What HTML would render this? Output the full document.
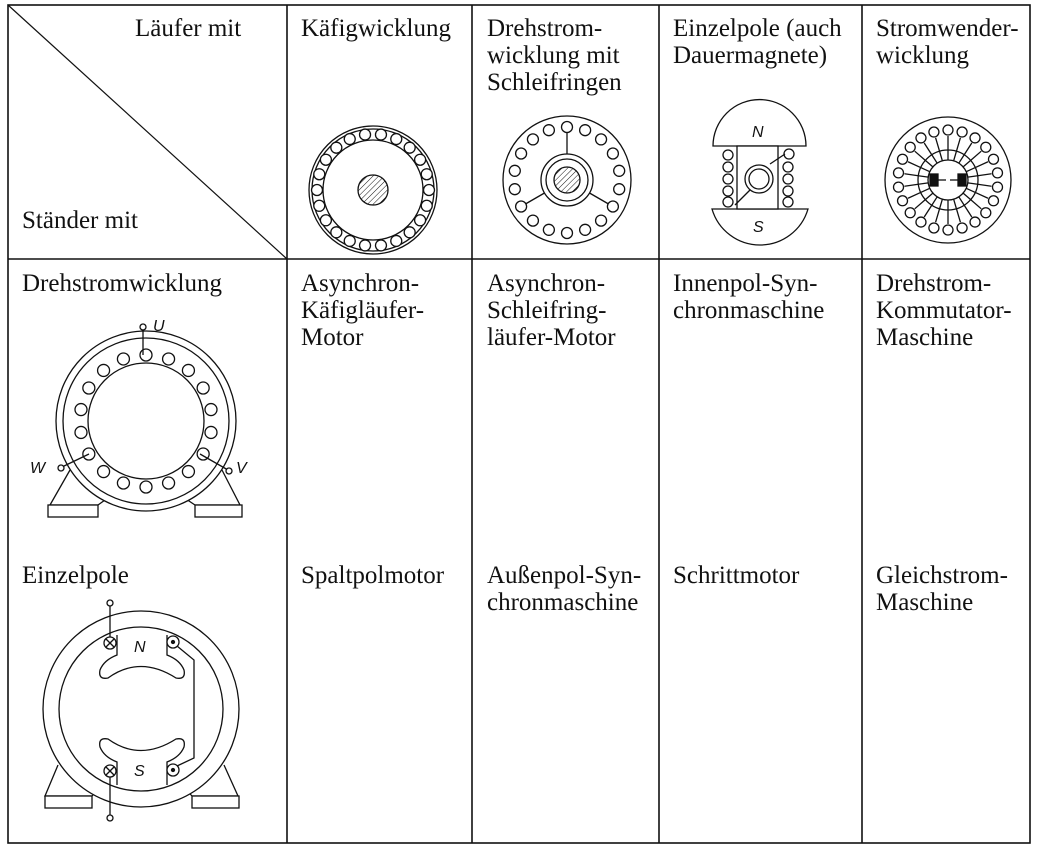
<!DOCTYPE html>
<html><head><meta charset="utf-8"><style>
html,body{margin:0;padding:0;background:#fff;width:1039px;height:852px;overflow:hidden}
svg{display:block}
text{font-family:"Liberation Serif",serif;font-size:25px;fill:#111}
.it{font-family:"Liberation Sans",sans-serif;font-style:italic;font-size:16px}
</style></head><body>
<svg width="1039" height="852" viewBox="0 0 1039 852">
<g stroke="#111" stroke-width="1.6" fill="none">
<rect x="8" y="5" width="1022" height="838"/>
<line x1="287" y1="5" x2="287" y2="843"/><line x1="472" y1="5" x2="472" y2="843"/>
<line x1="659" y1="5" x2="659" y2="843"/><line x1="862" y1="5" x2="862" y2="843"/>
<line x1="8" y1="259" x2="1030" y2="259"/>
<line x1="8" y1="5" x2="287" y2="259" stroke-width="1.2"/>
</g>
<g>
<text x="135" y="36">Läufer mit</text>
<text x="22" y="228">Ständer mit</text>
<text x="301" y="36">Käfigwicklung</text>
<text x="487" y="36">Drehstrom-</text><text x="487" y="63">wicklung mit</text><text x="487" y="90">Schleifringen</text>
<text x="673" y="36">Einzelpole (auch</text><text x="673" y="63">Dauermagnete)</text>
<text x="876" y="36">Stromwender-</text><text x="876" y="63">wicklung</text>
</g>
<g>
<text x="22" y="291">Drehstromwicklung</text>
<text x="301" y="291">Asynchron-</text><text x="301" y="318">Käfigläufer-</text><text x="301" y="345">Motor</text>
<text x="487" y="291">Asynchron-</text><text x="487" y="318">Schleifring-</text><text x="487" y="345">läufer-Motor</text>
<text x="673" y="291">Innenpol-Syn-</text><text x="673" y="318">chronmaschine</text>
<text x="876" y="291">Drehstrom-</text><text x="876" y="318">Kommutator-</text><text x="876" y="345">Maschine</text>
<text x="22" y="583">Einzelpole</text>
<text x="301" y="583">Spaltpolmotor</text>
<text x="487" y="583">Außenpol-Syn-</text><text x="487" y="610">chronmaschine</text>
<text x="673" y="583">Schrittmotor</text>
<text x="876" y="583">Gleichstrom-</text><text x="876" y="610">Maschine</text>
</g>
<defs><pattern id="h" width="4" height="4" patternUnits="userSpaceOnUse" patternTransform="rotate(45)"><line x1="0" y1="0" x2="0" y2="4" stroke="#111" stroke-width="1"/></pattern></defs>
<g stroke="#111" stroke-width="1.3" fill="#fff" id="drawings"></g>
<g>
<text class="it" x="752" y="137">N</text><text class="it" x="753" y="232">S</text>
<text class="it" x="153" y="331">U</text><text class="it" x="30" y="473">W</text><text class="it" x="236" y="473">V</text>
<text class="it" x="134" y="652">N</text><text class="it" x="134" y="776">S</text>
</g>
</svg>
<script>
const g=document.getElementById('drawings');
function el(t,a){const e=document.createElementNS('http://www.w3.org/2000/svg',t);for(const k in a)e.setAttribute(k,a[k]);g.appendChild(e);return e;}
function C(x,y,r,f){return el('circle',{cx:x,cy:y,r:r,fill:f||'#fff'});}
function L(a,b,c,d){return el('line',{x1:a,y1:b,x2:c,y2:d});}
function P(d,f){return el('path',{d:d,fill:f||'none'});}
function ring(cx,cy,R,n,off){const pts=[];for(let i=0;i<n;i++){const a=off+i*2*Math.PI/n;pts.push([cx+R*Math.cos(a),cy+R*Math.sin(a)]);}return pts;}
// Käfig rotor
C(373,190,64);C(373,190,61);C(373,190,50);
ring(373,190,56,22,0).forEach(p=>C(p[0],p[1],5.5));
C(373,190,15,'url(#h)');
// Drehstrom rotor
C(567,180,64);
for(let i=0;i<18;i+=6){const a=-Math.PI/2+i*Math.PI/9;L(567+53*Math.cos(a),180+53*Math.sin(a),567+26*Math.cos(a),180+26*Math.sin(a));}
ring(567,180,53,18,-Math.PI/2).forEach(p=>C(p[0],p[1],5.5));
C(567,180,26);C(567,180,21);C(567,180,13,'url(#h)');
// Einzelpole rotor
P('M713 146 A46 46 0 0 1 806 146 Z','#fff');P('M712 209 L808 209 A50 50 0 0 1 712 209 Z','#fff');
el('rect',{x:737,y:146,width:41,height:63,fill:'#fff'});
[155,167,179,191,202].forEach(y=>{C(728,y,5);});[167,179,191,202].forEach(y=>{C(788,y,5);});C(789,154,5);
C(759,179,14);C(759,179,10);L(770,164,785,154);L(750,190,735,205);
// Stromwender
C(948,180,63);C(948,180,30);C(948,180,20);
ring(948,180,50,22,-Math.PI/2).forEach((p,i)=>{const a=-Math.PI/2+i*2*Math.PI/22;L(948+30*Math.cos(a),180+30*Math.sin(a),948+44*Math.cos(a),180+44*Math.sin(a));L(948+20*Math.cos(a),180+20*Math.sin(a),948+30*Math.cos(a),180+30*Math.sin(a));C(p[0],p[1],5);});
el('rect',{x:930,y:174,width:8,height:12,fill:'#111'});el('rect',{x:958,y:174,width:8,height:12,fill:'#111'});
L(938,180,946,180);L(950,180,958,180);
// Drehstrom stator
P('M70 470 L50 505 L98 505 L112 495','#fff');P('M222 470 L240 505 L195 505 L180 495','#fff');
el('rect',{x:48,y:505,width:50,height:12,fill:'#fff'});el('rect',{x:195,y:505,width:47,height:12,fill:'#fff'});
C(146,421,90);C(146,421,83);C(146,421,58,'none');
ring(146,421,66,18,-Math.PI/2).forEach(p=>C(p[0],p[1],6));
L(143,355,143,330);C(143,327,3);L(89,454,62,467);C(61,468,3);L(200,454,228,470);C(229,471,3);
// Einzelpole stator
P('M58 765 L45 796 L92 796 L102 785','#fff');P('M224 765 L238 796 L192 796 L182 785','#fff');
el('rect',{x:45,y:796,width:47,height:12,fill:'#fff'});el('rect',{x:192,y:796,width:47,height:12,fill:'#fff'});
C(141,709,98);C(141,709,82);
P('M117 635 L117 655 Q104 660 100 670 Q98 680 108 678 Q140 655 176 678 Q186 680 184 670 Q180 660 167 655 L167 635','#fff');
P('M117 785 L117 762 Q104 757 100 747 Q98 737 108 739 Q140 762 176 739 Q186 737 184 747 Q180 757 167 762 L167 785','#fff');
C(110,643,6);C(173,642,6);C(110,771,6);C(173,770,6);
C(173,642,1.5,'#111');C(173,770,1.5,'#111');
L(106,639,114,647);L(114,639,106,647);L(106,767,114,775);L(114,767,106,775);
L(110,637,110,605);C(110,603,3);L(110,777,110,815);C(110,818,3);
P('M177 646 L194 660 L194 758 L177 766');
</script>
</body></html>
